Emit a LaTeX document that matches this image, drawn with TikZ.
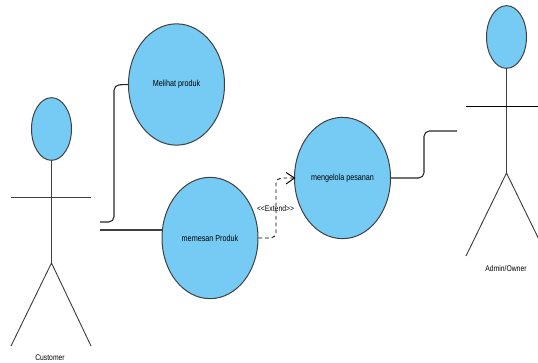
\documentclass[tikz,border=0pt]{standalone}
\usepackage{fontspec}
\setmainfont{Liberation Sans}[Ligatures=NoCommon]
\newfontfamily\narrowfont[FakeStretch=0.82]{Liberation Sans}
\usetikzlibrary{arrows.meta,shapes.geometric}
\definecolor{usefill}{HTML}{76CBF5}
\definecolor{lineg}{HTML}{404040}
\tikzset{
  x=0.75pt,y=-0.75pt,
  usecase/.style={ellipse,draw=lineg,line width=0.75pt,fill=usefill,inner sep=0pt,minimum width=72pt,minimum height=91pt,font=\narrowfont\fontsize{6.6pt}{8pt}\selectfont},
  head/.style={ellipse,draw=lineg,line width=0.75pt,fill=usefill,inner sep=0pt,minimum width=30pt,minimum height=47pt},
  body/.style={draw=lineg,line width=0.7pt},
  link/.style={draw=black!85,line width=0.8pt,rounded corners=4pt},
  dep/.style={draw=black,line width=0.6pt,dash pattern=on 2.8pt off 2.2pt,rounded corners=4pt},
  lbl/.style={font=\narrowfont\fontsize{6.2pt}{7pt}\selectfont,inner sep=0pt}
}
\begin{document}
\begin{tikzpicture}
\useasboundingbox (0,0) rectangle (538,363);
% customer
\node[head] (h1) at (51.5,129) {};
\coordinate (hipa) at (51.5,263);
\coordinate (al) at (11,197);
\coordinate (ar) at (91,197);
\coordinate (fl) at (11,346);
\coordinate (fr) at (91,346);
\draw[body] (h1.south) -- (hipa);
\draw[body] (al) -- (ar);
\draw[body] (fl) -- (hipa) -- (fr);
\node[lbl] (c) at (50,358) {Customer};
% admin
\node[head] (h2) at (506.5,37) {};
\coordinate (hipb) at (506.5,173);
\coordinate (bl) at (466,106);
\coordinate (br) at (547,106);
\coordinate (gl) at (466,256);
\coordinate (gr) at (547,256);
\draw[body] (h2.south) -- (hipb);
\draw[body,black] (bl) -- (br);
\draw[body] (gl) -- (hipb) -- (gr);
\node[lbl] (d) at (506,269) {Admin/Owner};
% cases
\node[usecase] (u1) at (176.5,84.5) {Melihat produk};
\node[usecase] (u2) at (210,238) {memesan Produk};
\node[usecase] (u3) at (342.5,178) {mengelola pesanan};
% connectors
\coordinate (s1) at (100,222);
\coordinate (s2) at (100,230);
\coordinate (s3) at (457,131);
\draw[link] (s1) -| (114,85) -- (u1.west);
\draw[draw=lineg,line width=1.1pt] (s2) -- (162.5,230);
\draw[link] (u3.east) -- (424,178) -- (424,131) -- (s3);
\draw[dep] (u2.east) -- (276,238) -- (276,178) -- (u3.west);
\draw[draw=black,line width=0.7pt] (286,172.5) -- (294.5,178) -- (286,184);
\node[lbl] (e) at (275.5,209) {<{}<Extend>{}>};
\end{tikzpicture}
\end{document}
